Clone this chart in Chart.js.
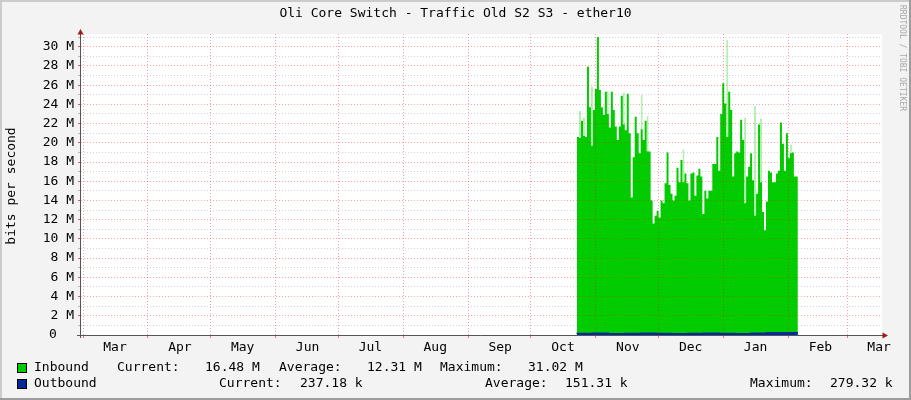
<!DOCTYPE html>
<html>
<head>
<meta charset="utf-8">
<title>Oli Core Switch - Traffic Old S2 S3 - ether10</title>
<script src="https://cdn.jsdelivr.net/npm/chart.js@4/dist/chart.umd.min.js"></script>
<style>
html, body { margin: 0; padding: 0; background: #f3f3f3; }
#wrap { width: 911px; height: 400px; }
</style>
</head>
<body>
<div id="wrap"><canvas id="traffic" width="911" height="400"></canvas></div>
<script>
// month boundaries in days counted from 1 Mar, labels sit mid-month
const monthLabels = ['Mar', 'Apr', 'May', 'Jun', 'Jul', 'Aug', 'Sep', 'Oct', 'Nov', 'Dec', 'Jan', 'Feb', 'Mar'];
const monthStarts = [0, 31, 61, 92, 122, 153, 184, 214, 245, 275, 306, 337, 365];
const firstDay = 236;   // ~23 Oct
const lastDay = 341.5;  // ~5 Feb

// inbound, Mbit/s, one step each
const inbound = [
  19.4, 20.6, 20.5, 22.3, 20.7, 20.6, 27.9, 23.7, 19.7, 23.4,
  25.6, 31.0, 25.5, 23.7, 22.9, 25.3, 23.0, 21.6, 25.3, 23.4,
  21.7, 20.3, 21.7, 24.9, 21.9, 21.3, 25.1, 21.0, 14.3, 18.5,
  22.7, 21.0, 18.9, 21.4, 20.3, 22.3, 19.1, 19.1, 14.0, 11.6,
  12.4, 12.9, 12.2, 14.0, 13.7, 15.8, 19.0, 15.6, 14.7, 14.0,
  14.5, 17.4, 15.9, 18.2, 15.9, 16.8, 15.8, 14.0, 16.8, 16.9,
  14.5, 16.6, 17.3, 16.5, 12.6, 15.0, 14.2, 15.0, 15.0, 17.8,
  17.8, 20.6, 17.1, 23.0, 26.2, 24.1, 20.6, 25.3, 23.4, 16.5,
  18.9, 19.1, 19.0, 22.4, 20.3, 13.7, 16.5, 17.5, 18.9, 16.1,
  12.4, 14.7, 21.9, 15.9, 12.8, 10.9, 13.9, 17.1, 16.9, 15.9,
  15.9, 16.8, 17.1, 22.1, 19.9, 17.1, 21.0, 18.4, 18.9, 19.0,
  16.5
];
// faint spikes above the solid area: [step index, Mbit/s]
const inboundPeaks = [
  [1, 23.3], [3, 22.6], [7, 25.8], [15, 25.4], [23, 25.2], [28, 16.0],
  [32, 25.0], [35, 22.8], [53, 19.3], [72, 23.0], [75, 30.7], [84, 22.6],
  [89, 23.8], [92, 22.5], [107, 19.8]
];
// outbound, Mbit/s
const outbound = [0.12, 0.15, 0.17, 0.14, 0.16, 0.19, 0.15, 0.13, 0.16, 0.18, 0.15, 0.14, 0.17, 0.24];

const legendRows = [
  { name: 'Inbound',  color: '#00cc00', cols: [[117, 'Current:'], [205, '16.48 M'], [279, 'Average:'], [367, '12.31 M'], [440, 'Maximum:'], [528, '31.02 M']] },
  { name: 'Outbound', color: '#002a97', cols: [[219, 'Current:'], [300, '237.18 k'], [485, 'Average:'], [565, '151.31 k'], [750, 'Maximum:'], [830, '279.32 k']] }
];

const MONO = "'DejaVu Sans Mono', 'Liberation Mono', monospace";

function steps(values, from, to) {
  const w = (to - from) / values.length;
  const pts = values.map((v, i) => ({ x: from + i * w, y: v }));
  pts.push({ x: to, y: values[values.length - 1] });
  return pts;
}

function peakSteps() {
  const w = (lastDay - firstDay) / inbound.length;
  const pts = [];
  inboundPeaks.forEach(([i, v]) => {
    pts.push({ x: firstDay + i * w, y: v });
    pts.push({ x: firstDay + (i + 1) * w, y: v });
    pts.push({ x: firstDay + (i + 1) * w, y: null });
  });
  return pts;
}

const rrdLook = {
  id: 'rrdLook',
  beforeDraw(chart) {
    const { ctx, chartArea: a } = chart;
    ctx.save();
    ctx.fillStyle = '#f3f3f3';
    ctx.fillRect(0, 0, chart.width, chart.height);
    ctx.fillStyle = '#ffffff';
    ctx.fillRect(a.left, a.top, a.right - a.left, a.bottom - a.top);
    ctx.restore();
  },
  afterDraw(chart) {
    const { ctx, chartArea: a } = chart;
    ctx.save();

    // axes with arrows
    ctx.strokeStyle = '#555';
    ctx.lineWidth = 1;
    ctx.beginPath();
    ctx.moveTo(80.5, a.bottom + 3);
    ctx.lineTo(80.5, a.top - 2);
    ctx.moveTo(77, a.bottom + 0.5);
    ctx.lineTo(a.right + 2, a.bottom + 0.5);
    ctx.stroke();
    ctx.fillStyle = '#9a1c1c';
    ctx.beginPath();
    ctx.moveTo(80.5, a.top - 5);
    ctx.lineTo(77.5, a.top + 0.5);
    ctx.lineTo(83.5, a.top + 0.5);
    ctx.closePath();
    ctx.fill();
    ctx.beginPath();
    ctx.moveTo(a.right + 6, a.bottom + 0.5);
    ctx.lineTo(a.right + 0.5, a.bottom - 2.5);
    ctx.lineTo(a.right + 0.5, a.bottom + 3.5);
    ctx.closePath();
    ctx.fill();

    // title and axis title
    ctx.fillStyle = '#000';
    ctx.font = '13px ' + MONO;
    ctx.textAlign = 'center';
    ctx.textBaseline = 'middle';
    ctx.fillText('Oli Core Switch - Traffic Old S2 S3 - ether10', 455.5, 14);
    ctx.save();
    ctx.translate(12, 186);
    ctx.rotate(-Math.PI / 2);
    ctx.fillText('bits per second', 0, 0);
    ctx.restore();

    // zero label sits in the number column, not under the unit
    ctx.textAlign = 'left';
    ctx.fillText('0', 49, chart.scales.y.getPixelForValue(0));

    // watermark
    ctx.save();
    ctx.translate(902, 5);
    ctx.rotate(Math.PI / 2);
    ctx.fillStyle = '#a8a8a8';
    ctx.font = '8px ' + MONO;
    ctx.textAlign = 'left';
    ctx.fillText('RRDTOOL / TOBI OETIKER', 0, 0);
    ctx.restore();

    // legend
    ctx.textAlign = 'left';
    ctx.font = '13px ' + MONO;
    legendRows.forEach((row, r) => {
      const y = 368 + r * 16;
      ctx.fillStyle = row.color;
      ctx.fillRect(17.5, y - 4.5, 9, 9);
      ctx.strokeStyle = '#000';
      ctx.strokeRect(17.5, y - 4.5, 9, 9);
      ctx.fillStyle = '#000';
      ctx.fillText(row.name, 34, y);
      row.cols.forEach(([x, t]) => ctx.fillText(t, x, y));
    });

    // frame
    ctx.fillStyle = '#cbcbcb';
    ctx.fillRect(0, 0, chart.width, 2);
    ctx.fillRect(0, 0, 2, chart.height);
    ctx.fillStyle = '#9c9c9c';
    ctx.fillRect(chart.width - 2, 0, 2, chart.height);
    ctx.fillRect(0, chart.height - 2, chart.width, 2);
    ctx.restore();
  }
};

new Chart(document.getElementById('traffic'), {
  type: 'line',
  data: {
    datasets: [
      {
        label: 'Outbound',
        data: steps(outbound, firstDay, lastDay),
        stepped: 'after',
        borderColor: '#002a97',
        borderWidth: 1.5,
        backgroundColor: '#002a97',
        fill: 'origin',
        pointRadius: 0,
        order: 0
      },
      {
        label: 'Inbound',
        data: steps(inbound, firstDay, lastDay),
        stepped: 'after',
        borderWidth: 0,
        backgroundColor: '#00cc00',
        fill: 'origin',
        pointRadius: 0,
        order: 1
      },
      {
        label: 'Inbound peaks',
        data: peakSteps(),
        stepped: 'after',
        spanGaps: false,
        borderWidth: 0,
        backgroundColor: 'rgba(0, 204, 0, 0.3)',
        fill: 'origin',
        pointRadius: 0,
        order: 2
      }
    ]
  },
  options: {
    responsive: false,
    animation: false,
    devicePixelRatio: 1,
    layout: { padding: { left: 0, right: 29, top: 34, bottom: 0 } },
    plugins: { legend: { display: false }, title: { display: false }, tooltip: { enabled: false } },
    scales: {
      x: {
        type: 'linear',
        min: -0.96,
        max: 381.7,
        afterBuildTicks: s => { s.ticks = monthStarts.map(v => ({ value: v })); },
        afterFit: s => { s.height = 65; },
        ticks: {
          autoSkip: false,
          maxRotation: 0,
          labelOffset: 32,
          padding: 2,
          color: '#000',
          font: { family: MONO, size: 13 },
          callback: (v, i) => monthLabels[i]
        },
        grid: { z: 1, color: 'rgba(255, 0, 0, 0.38)', tickLength: 3, tickColor: 'rgba(200, 0, 0, 0.5)' },
        border: { display: false, dash: [1, 2] }
      },
      y: {
        min: 0,
        max: 31.32,
        afterBuildTicks: s => {
          const t = [];
          for (let v = 0; v <= 31; v++) t.push({ value: v });
          s.ticks = t;
        },
        afterFit: s => { s.width = 81; },
        ticks: {
          autoSkip: false,
          padding: 4,
          color: '#000',
          font: { family: MONO, size: 13 },
          callback: v => (v % 2 || v === 0 ? '' : v + ' M')
        },
        grid: {
          z: 1,
          tickLength: 3,
          color: c => (c.tick && c.tick.value % 2 ? 'rgba(130, 130, 130, 0.35)' : 'rgba(255, 0, 0, 0.35)'),
          tickColor: c => (c.tick && c.tick.value % 2 ? 'rgba(130, 130, 130, 0.5)' : 'rgba(200, 0, 0, 0.6)')
        },
        border: { display: false, dash: [1, 2] }
      }
    }
  },
  plugins: [rrdLook]
});
</script>
</body>
</html>
